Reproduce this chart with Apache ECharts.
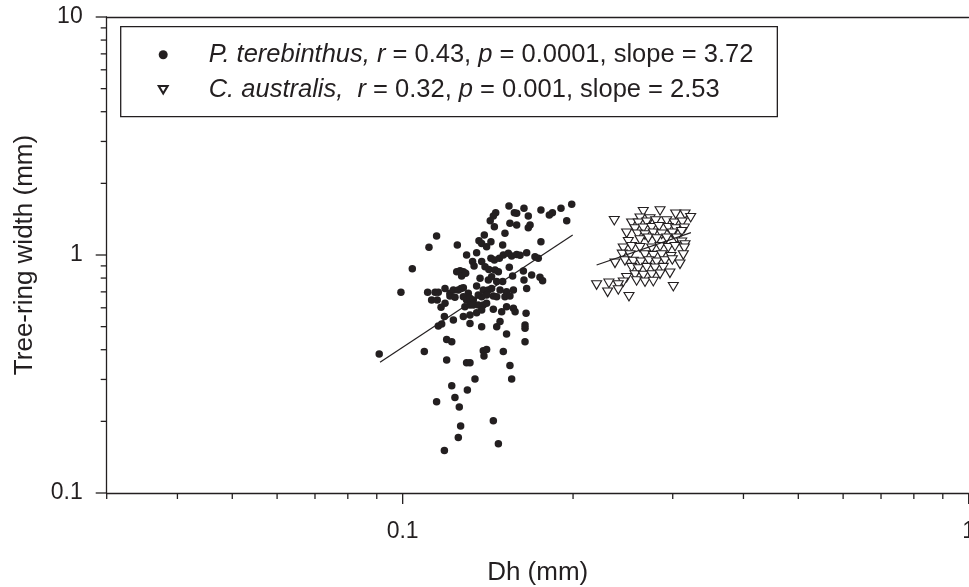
<!DOCTYPE html>
<html>
<head>
<meta charset="utf-8">
<script src="https://cdn.jsdelivr.net/npm/echarts@6/dist/echarts.min.js"></script>
<style>html,body{margin:0;padding:0;background:#fff}#c{width:969px;height:587px}</style>
</head>
<body>
<div id="c"></div>
<script>
// ---- data (Dh in mm, tree-ring width in mm) ----
const ptDh = [0.1541,0.1638,0.1575,0.1590,0.1755,0.1839,0.1816,0.1904,0.1989,0.1949,
0.1460,0.1446,0.1428,0.1667,0.1452,0.1547,0.1590,0.1667,0.1679,0.1148,
0.1516,0.1394,0.1113,0.1249,0.1364,0.1379,0.1407,0.1432,0.1755,0.1502,
0.1297,0.1351,0.1432,0.1452,0.1482,0.1506,0.1537,0.1558,0.1590,0.1612,
0.1656,0.1713,0.1736,0.1329,0.1337,0.1379,0.1398,0.1420,0.1456,0.1476,
0.1543,0.1634,0.1690,0.1748,0.1767,0.1040,0.1246,0.1263,0.1280,0.1271,
0.1292,0.1370,0.1417,0.1436,0.1466,0.1502,0.1564,0.1638,0.1656,0.0993,
0.1107,0.1141,0.1156,0.1188,0.1212,0.1229,0.1254,0.1268,0.1280,0.1306,
0.1351,0.1388,0.1417,0.1436,0.1486,0.1526,0.1569,0.1125,0.1151,0.1212,
0.1237,0.1280,0.1297,0.1315,0.1333,0.1360,0.1379,0.1407,0.1446,0.1466,
0.1516,0.1547,0.1169,0.1188,0.1288,0.1315,0.1333,0.1360,0.1388,0.1407,
0.1446,0.1496,0.1526,0.1569,0.1580,0.1652,0.1185,0.1229,0.1280,0.1315,
0.1351,0.1379,0.1156,0.1172,0.1315,0.1379,0.1466,0.1486,0.1526,0.1645,
0.1645,0.1196,0.1221,0.1645,0.0909,0.1092,0.1388,0.1407,0.1392,0.1506,
0.1196,0.1297,0.1315,0.1547,0.1342,0.1558,0.1221,0.1301,0.1237,0.1148,
0.1259,0.1446,0.1266,0.1254,0.1476,0.1185];
const ptWidth = [1.607,1.571,1.506,1.496,1.546,1.506,1.473,1.571,1.633,1.394,
1.506,1.458,1.394,1.458,1.315,1.359,1.337,1.303,1.337,1.202,
1.233,1.213,1.077,1.102,1.149,1.119,1.084,1.138,1.138,1.102,
1.0,1.023,0.968,0.953,0.968,1.0,1.016,0.990,1.006,0.997,
1.023,0.984,0.968,0.938,0.899,0.938,0.893,0.870,0.865,0.851,
0.888,0.857,0.824,0.806,0.780,0.876,0.851,0.859,0.851,0.816,
0.838,0.798,0.785,0.811,0.773,0.773,0.816,0.785,0.724,0.697,
0.697,0.697,0.697,0.724,0.690,0.713,0.713,0.724,0.729,0.690,
0.741,0.713,0.713,0.724,0.713,0.701,0.713,0.647,0.647,0.673,
0.664,0.668,0.647,0.658,0.647,0.679,0.668,0.679,0.673,0.668,
0.668,0.673,0.603,0.627,0.606,0.616,0.616,0.616,0.616,0.627,
0.591,0.578,0.606,0.597,0.578,0.569,0.551,0.533,0.551,0.560,
0.572,0.587,0.503,0.513,0.516,0.500,0.500,0.525,0.466,0.508,
0.492,0.442,0.432,0.432,0.384,0.393,0.396,0.401,0.376,0.393,
0.362,0.353,0.353,0.343,0.301,0.301,0.282,0.271,0.252,0.242,
0.230,0.201,0.191,0.171,0.161,0.151];
const caDh = [0.2365,0.2661,0.2849,0.3036,0.3154,0.3227,0.2626,0.2735,0.2538,0.2608,
0.2698,0.2799,0.2927,0.3019,0.3119,0.2573,0.2661,0.2754,0.2837,0.2946,
0.3036,0.3145,0.2487,0.2601,0.2680,0.2772,0.2868,0.2995,0.3111,
0.2504,0.2626,0.2716,0.2810,0.2927,0.3048,0.3111,0.3154,0.2453,0.2538,
0.2626,0.2754,0.2849,0.2946,0.3028,0.3145,0.2443,0.2521,0.2680,0.2772,
0.2868,0.2979,0.3132,0.2372,0.2470,0.2555,0.2636,0.2724,0.2810,0.2907,
0.2995,0.3090,0.2538,0.2608,0.2698,0.2791,0.2887,0.2966,0.2573,0.2661,
0.2754,0.2849,0.2487,0.2453,0.2590,0.2680,0.2772,0.2201,0.2314,0.2404,
0.2302,0.2404,0.3007,0.2511];
const caWidth = [1.394,1.521,1.531,1.482,1.482,1.435,1.426,1.417,1.359,1.359,
1.372,1.390,1.390,1.359,1.372,1.286,1.294,1.303,1.315,1.303,
1.286,1.294,1.233,1.221,1.213,1.233,1.221,1.233,1.253,
1.138,1.156,1.175,1.167,1.175,1.175,1.130,1.102,1.067,1.084,
1.073,1.067,1.084,1.073,1.084,1.067,1.006,1.0,1.0,0.994,
1.0,0.984,1.0,0.923,0.944,0.938,0.932,0.944,0.932,0.944,
0.953,0.914,0.885,0.873,0.885,0.879,0.885,0.838,0.824,0.821,
0.824,0.830,0.803,0.769,0.778,0.769,0.773,0.748,0.760,0.748,
0.697,0.713,0.736,0.668];
// regression line end points
const ptLineDh = [0.0912, 0.1997];
const ptLineWidth = [0.354, 1.213];
const caLineDh = [0.2201, 0.3231];
const caLineWidth = [0.908, 1.241];
// legend texts
const seriesNames = ['P. terebinthus', 'C. australis'];
const rValues = ['0.43', '0.32'];
const pValues = ['0.0001', '0.001'];
const slopeValues = ['3.72', '2.53'];
// axes
const xRange = [0.03, 1];
const yRange = [0.1, 10];
const xMajorTicks = [0.1, 1];
const xMinorTicks = [0.03,0.04,0.05,0.06,0.07,0.08,0.09,0.2,0.3,0.4,0.5,0.6,0.7,0.8,0.9];
const yMajorTicks = [0.1, 1, 10];
const yMinorTicks = [0.2,0.3,0.4,0.5,0.6,0.7,0.8,0.9,2,3,4,5,6,7,8,9];

const INK = '#231f20';
const FONT = '"Liberation Sans", Arial, sans-serif';
const MAJOR_LEN = 11, MINOR_LEN = 6;
const TRI_DOWN = 'path://M0,0L10,0L5,8.5Z';

const zip = (a, b) => a.map((v, i) => [v, b[i]]);
const xTickData = xMajorTicks.map(v => [v, yRange[0], 1]).concat(xMinorTicks.map(v => [v, yRange[0], 0]));
const yTickData = yMajorTicks.map(v => [xRange[0], v, 1]).concat(yMinorTicks.map(v => [xRange[0], v, 0]));

const chart = echarts.init(document.getElementById('c'), null, {renderer: 'canvas'});
chart.setOption({
  animation: false,
  backgroundColor: '#fff',
  textStyle: {fontFamily: FONT, color: INK},
  grid: {left: 106.7, right: 0.3, top: 17, bottom: 94, containLabel: false, outerBoundsMode: 'none'},
  legend: {
    data: [{name: seriesNames[0], icon: 'circle'}, {name: seriesNames[1], icon: TRI_DOWN}],
    orient: 'vertical',
    left: 120.7, top: 26.7,
    padding: [15, 24, 14, 37],
    itemGap: 9,
    itemWidth: 9, itemHeight: 9,
    symbolRotate: 0,
    symbolKeepAspect: true,
    borderColor: INK, borderWidth: 1.3,
    selectedMode: false,
    formatter: function (name) {
      const i = seriesNames.indexOf(name);
      const sep = i === 0 ? ' ' : '  ';
      return '{g| }{i|' + name + ',}' + sep + '{i|r} = ' + rValues[i] + ', {i|p} = ' + pValues[i] + ', slope = ' + slopeValues[i];
    },
    textStyle: {
      fontFamily: FONT, fontSize: 25.5, color: INK,
      rich: {
        i: {fontFamily: FONT, fontSize: 25.5, fontStyle: 'italic', color: INK},
        g: {width: 36, fontSize: 25.5}
      }
    }
  },
  xAxis: [{
    type: 'log', logBase: 10, min: xRange[0], max: xRange[1],
    name: 'Dh (mm)', nameLocation: 'middle', nameGap: 67,
    nameTextStyle: {fontFamily: FONT, fontSize: 26, color: INK},
    axisLine: {show: true, lineStyle: {color: INK, width: 1.3}},
    axisTick: {show: false},
    splitLine: {show: false},
    axisLabel: {
      fontFamily: FONT, fontSize: 23, color: INK, margin: 27,
      showMinLabel: true, showMaxLabel: true,
      formatter: v => (v < 0.05 ? '' : String(+v.toPrecision(3)))
    }
  }, {
    type: 'log', logBase: 10, min: xRange[0], max: xRange[1], position: 'top',
    axisLine: {show: true, lineStyle: {color: INK, width: 1.3}},
    axisTick: {show: false}, axisLabel: {show: false}, splitLine: {show: false}
  }],
  yAxis: {
    type: 'log', logBase: 10, min: yRange[0], max: yRange[1],
    name: 'Tree-ring width (mm)', nameLocation: 'middle', nameGap: 69,
    nameTextStyle: {fontFamily: FONT, fontSize: 26, color: INK},
    axisLine: {show: true, lineStyle: {color: INK, width: 1.3}},
    axisTick: {show: false},
    splitLine: {show: false},
    axisLabel: {
      fontFamily: FONT, fontSize: 23, color: INK, margin: 24,
      formatter: v => String(+v.toPrecision(3))
    }
  },
  series: [
    {
      name: seriesNames[0], type: 'scatter', xAxisIndex: 0,
      data: zip(ptDh, ptWidth),
      symbol: 'circle', symbolSize: 7.5,
      itemStyle: {color: INK, opacity: 1}
    },
    {
      name: seriesNames[1], type: 'scatter', xAxisIndex: 0,
      data: zip(caDh, caWidth),
      symbol: TRI_DOWN, symbolSize: [10, 8.5],
      itemStyle: {color: '#fff', borderColor: INK, borderWidth: 1.1, opacity: 1}
    },
    {
      type: 'line', xAxisIndex: 0, data: zip(ptLineDh, ptLineWidth),
      symbol: 'none', lineStyle: {color: INK, width: 1.2}, silent: true, z: 5
    },
    {
      type: 'line', xAxisIndex: 0, data: zip(caLineDh, caLineWidth),
      symbol: 'none', lineStyle: {color: INK, width: 1.2}, silent: true, z: 5
    },
    {
      type: 'custom', xAxisIndex: 0, silent: true, clip: false,
      data: xTickData,
      renderItem: function (params, api) {
        const p = api.coord([api.value(0), api.value(1)]);
        const len = api.value(2) ? MAJOR_LEN : MINOR_LEN;
        return {type: 'line', shape: {x1: p[0], y1: p[1], x2: p[0], y2: p[1] + len},
                style: {stroke: INK, lineWidth: 1.3}};
      }
    },
    {
      type: 'custom', xAxisIndex: 0, silent: true, clip: false,
      data: yTickData,
      renderItem: function (params, api) {
        const p = api.coord([api.value(0), api.value(1)]);
        const len = api.value(2) ? MAJOR_LEN : MINOR_LEN;
        return {type: 'line', shape: {x1: p[0], y1: p[1], x2: p[0] - len, y2: p[1]},
                style: {stroke: INK, lineWidth: 1.3}};
      }
    }
  ]
});
</script>
</body>
</html>
